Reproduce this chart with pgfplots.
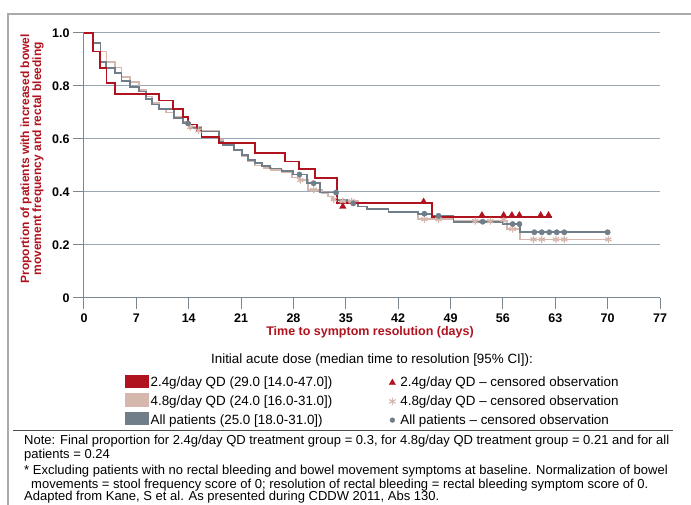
\documentclass[border=0pt]{standalone}
\usepackage{fontspec}
\setmainfont{Liberation Sans}
\usepackage{pgfplots}
\pgfplotsset{compat=1.18}
\definecolor{redc}{HTML}{B0121E}
\definecolor{pinkc}{HTML}{D5B7AE}
\definecolor{grayc}{HTML}{6F7E88}
\definecolor{gridc}{HTML}{9AA8B4}
\definecolor{axisc}{HTML}{7A8791}
\definecolor{framec}{HTML}{AAAAAA}
\begin{document}
\begin{tikzpicture}[x=1pt,y=1pt]
\path[use as bounding box] (0,0) rectangle (691,505);
\draw[framec, line width=1.2pt] (8,0) -- (8,491) -- (691,491);
\draw[black!70, line width=1pt] (13,74) -- (673,74);
\begin{axis}[
  at={(84pt,207pt)}, anchor=south west,
  scale only axis, width=576pt, height=265pt,
  xmin=0, xmax=77, ymin=0, ymax=1,
  axis x line*=bottom, axis y line*=left,
  axis line style={axisc, line width=1pt},
  xtick={0,7,...,77},
  xticklabels={0,7,14,21,28,35,42,49,56,63,70,77},
  ytick={0,0.2,0.4,0.6,0.8,1.0},
  yticklabels={0,0.2,0.4,0.6,0.8,1.0},
  ticklabel style={font=\fontsize{12.5}{14}\selectfont\bfseries},
  xticklabel style={yshift=-1.5pt},
  tick style={axisc, line width=1pt},
  tick align=outside, major tick length=11pt,
  ymajorgrids, grid style={gridc, line width=1pt},
  xlabel={Time to symptom resolution (days)},
  xlabel style={at={(axis description cs:0.4965,-0.128)}, anchor=center, font=\fontsize{12.5}{14}\selectfont\bfseries, text=redc},
  ylabel={Proportion of patients with increased bowel\\movement frequency and rectal bleeding},
  ylabel style={at={(axis description cs:-0.09,0.525)}, anchor=center, align=center, font=\fontsize{12}{12}\selectfont\bfseries, text=redc},
  legend columns=2,
  legend cell align=left,
  legend style={at={(axis description cs:0.0712,-0.389)}, anchor=west, draw=none, fill=none, inner sep=0pt,
    font=\fontsize{13.4}{15}\selectfont, row sep=3pt,
    /tikz/column 2/.style={column sep=54pt},
    nodes={inner sep=2pt, anchor=base west}},
]
% 4.8 g/day
\addplot[const plot, pinkc, line width=1.8pt, forget plot] coordinates {
(0,1.0)(1.2,0.962)(2.2,0.93)(3.0,0.89)(4.1,0.87)(5.0,0.835)(6.1,0.815)(7.4,0.785)(8.3,0.76)(9.1,0.735)(10.0,0.715)(11.0,0.70)(12.0,0.685)(13.2,0.665)(14.0,0.645)(15.7,0.632)(18.0,0.595)(18.6,0.58)(20.0,0.56)(21.1,0.535)(21.9,0.515)(22.9,0.50)(24.0,0.49)(25.0,0.483)(26.5,0.476)(27.8,0.455)(28.9,0.445)(29.9,0.408)(31.8,0.395)(32.6,0.383)(33.2,0.372)(34.2,0.365)(36.6,0.345)(37.8,0.335)(40.7,0.325)(44.7,0.297)(49.4,0.29)(56.5,0.26)(58.3,0.221)(70.2,0.221)};
% All patients
\addplot[const plot, grayc, line width=1.8pt, forget plot] coordinates {
(0,1.0)(1.2,0.962)(2.2,0.892)(2.9,0.867)(4.1,0.848)(5.0,0.82)(6.1,0.795)(7.4,0.779)(8.3,0.75)(9.1,0.73)(10.0,0.712)(12.0,0.678)(13.2,0.659)(14.2,0.642)(15.7,0.628)(18.0,0.59)(18.6,0.577)(20.0,0.558)(21.1,0.54)(21.9,0.52)(22.9,0.508)(23.8,0.498)(24.9,0.489)(26.4,0.478)(27.9,0.466)(29.8,0.433)(31.6,0.398)(33.9,0.37)(35.2,0.357)(36.6,0.345)(37.8,0.335)(40.7,0.323)(44.7,0.318)(46.5,0.31)(49.4,0.288)(56.0,0.279)(58.3,0.248)(70.0,0.248)};
% 2.4 g/day
\addplot[const plot, redc, line width=1.8pt, forget plot] coordinates {
(0,1.0)(1.2,0.93)(2.1,0.867)(3.0,0.81)(4.1,0.77)(10.0,0.745)(11.9,0.712)(13.2,0.684)(13.9,0.655)(15.1,0.63)(15.7,0.607)(18.0,0.586)(22.9,0.546)(26.9,0.515)(28.7,0.487)(30.9,0.452)(33.8,0.357)(46.5,0.305)(62.5,0.305)};
% censored marks
\addplot[only marks, mark=asterisk, mark size=3.6pt, pinkc, line width=1.2pt, forget plot] coordinates {
(14.2,0.645)(15.3,0.632)(28.9,0.445)(30.7,0.408)(33.4,0.372)(34.6,0.365)(35.8,0.365)(45.5,0.297)(47.4,0.297)(52.3,0.29)(54.3,0.29)(56.1,0.295)(57.3,0.26)(60.1,0.221)(61.2,0.221)(63.1,0.221)(64.2,0.221)(70.1,0.221)};
\addplot[only marks, mark=*, mark size=2.7pt, grayc, forget plot] coordinates {
(13.9,0.659)(28.8,0.466)(30.7,0.433)(33.7,0.398)(36.0,0.357)(45.5,0.318)(47.4,0.31)(53.3,0.288)(57.3,0.279)(58.2,0.279)(60.2,0.248)(61.2,0.248)(62.2,0.248)(63.2,0.248)(64.2,0.248)(70.0,0.248)};
\addplot[only marks, mark=triangle*, mark size=3.8pt, redc, forget plot] coordinates {
(34.6,0.345)(45.4,0.363)(53.2,0.312)(56.1,0.312)(57.2,0.312)(58.2,0.312)(61.05,0.312)(62.1,0.312)};
% legend
\addlegendimage{legend image code/.code={\fill[redc] (0pt,-0.5pt) rectangle (23pt,12pt);}}
\addlegendentry{2.4g/day QD (29.0 [14.0-47.0])}
\addlegendimage{legend image code/.code={\path[draw=none,fill=none] (-4pt,4pt) rectangle (6pt,4pt); \draw[redc, fill=redc] plot[only marks, mark=triangle*, mark size=3.6pt] coordinates {(0pt,4pt)};}}
\addlegendentry{2.4g/day QD -- censored observation}
\addlegendimage{legend image code/.code={\fill[pinkc] (0pt,-0.5pt) rectangle (23pt,12pt);}}
\addlegendentry{4.8g/day QD (24.0 [16.0-31.0])}
\addlegendimage{legend image code/.code={\path[draw=none,fill=none] (-4pt,4pt) rectangle (6pt,4pt); \draw[pinkc, line width=1.1pt] plot[only marks, mark=asterisk, mark size=3.8pt] coordinates {(0pt,4pt)};}}
\addlegendentry{4.8g/day QD -- censored observation}
\addlegendimage{legend image code/.code={\fill[grayc] (0pt,-0.5pt) rectangle (23pt,12pt);}}
\addlegendentry{All patients (25.0 [18.0-31.0])}
\addlegendimage{legend image code/.code={\path[draw=none,fill=none] (-4pt,4pt) rectangle (6pt,4pt); \fill[grayc] plot[only marks, mark=*, mark size=2.4pt] coordinates {(0pt,4pt)};}}
\addlegendentry{All patients -- censored observation}
\end{axis}
\node[anchor=base, font=\fontsize{13.4}{15}\selectfont] at (372,141) {Initial acute dose (median time to resolution [95\% CI]):};
\begin{scope}[every node/.style={anchor=base west, font=\fontsize{13}{15}\selectfont, inner sep=0pt}]
\node at (24,60) {Note: Final proportion for 2.4g/day QD treatment group = 0.3, for 4.8g/day QD treatment group = 0.21 and for all};
\node at (24,46) {patients = 0.24};
\node at (24,30) {* Excluding patients with no rectal bleeding and bowel movement symptoms at baseline. Normalization of bowel};
\node at (31,16) {movements = stool frequency score of 0; resolution of rectal bleeding = rectal bleeding symptom score of 0.};
\node at (24,4) {Adapted from Kane, S et al. As presented during CDDW 2011, Abs 130.};
\end{scope}
\end{tikzpicture}
\end{document}
